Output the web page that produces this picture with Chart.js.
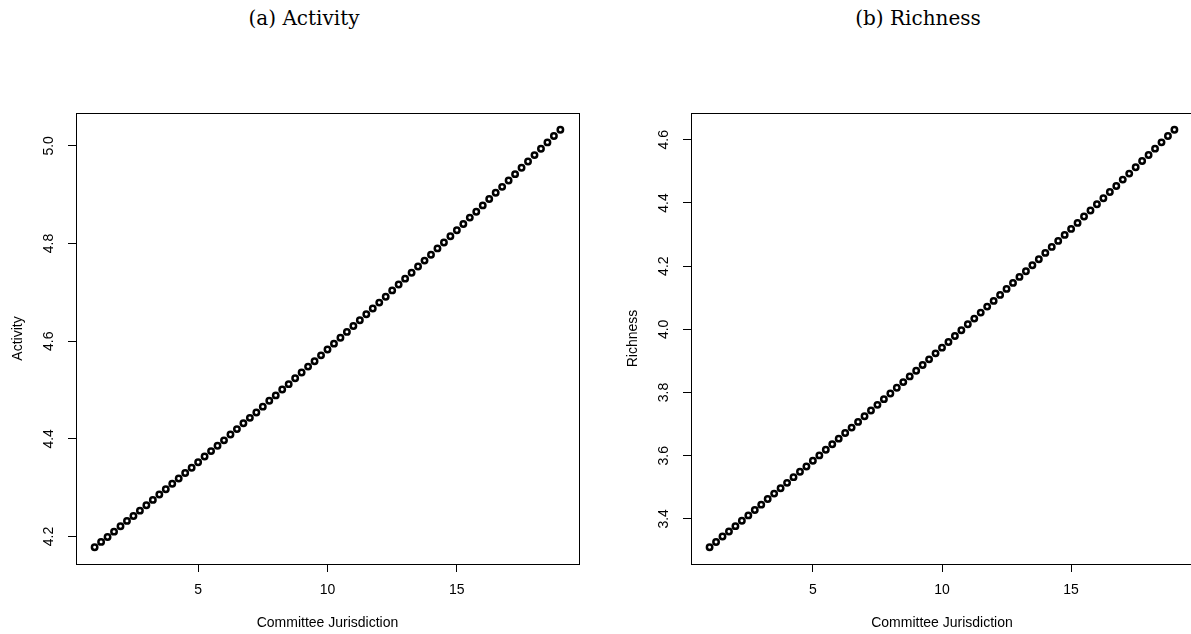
<!DOCTYPE html>
<html>
<head>
<meta charset="utf-8">
<script src="https://cdn.jsdelivr.net/npm/chart.js@4.4.1/dist/chart.umd.min.js"></script>
<style>
html,body{margin:0;padding:0;background:#fff;width:1191px;height:634px;overflow:hidden;position:relative}
.t{position:absolute;font-family:"DejaVu Serif",serif;font-size:20px;color:#000;white-space:nowrap;transform:translate(-50%,-50%)}
#c1{position:absolute;left:0;top:0}
#c2{position:absolute;left:600px;top:0}
</style>
</head>
<body>
<div class="t" style="left:304px;top:18px">(a) Activity</div>
<div class="t" style="left:918px;top:18px">(b) Richness</div>
<canvas id="c1" width="600" height="634"></canvas>
<canvas id="c2" width="620" height="634"></canvas>
<script>
const jurisdiction = [1,1.25,1.5,1.75,2,2.25,2.5,2.75,3,3.25,3.5,3.75,4,4.25,4.5,4.75,5,5.25,5.5,5.75,6,6.25,6.5,6.75,7,7.25,7.5,7.75,8,8.25,8.5,8.75,9,9.25,9.5,9.75,10,10.25,10.5,10.75,11,11.25,11.5,11.75,12,12.25,12.5,12.75,13,13.25,13.5,13.75,14,14.25,14.5,14.75,15,15.25,15.5,15.75,16,16.25,16.5,16.75,17,17.25,17.5,17.75,18,18.25,18.5,18.75,19];
const activity = [4.178,4.189,4.199,4.210,4.221,4.232,4.242,4.253,4.264,4.275,4.286,4.297,4.308,4.319,4.330,4.341,4.352,4.364,4.375,4.386,4.397,4.409,4.420,4.432,4.443,4.454,4.466,4.478,4.489,4.501,4.512,4.524,4.536,4.548,4.559,4.571,4.583,4.595,4.607,4.619,4.631,4.643,4.655,4.667,4.679,4.691,4.704,4.716,4.728,4.740,4.753,4.765,4.777,4.790,4.802,4.815,4.827,4.840,4.853,4.865,4.878,4.891,4.904,4.916,4.929,4.942,4.955,4.968,4.981,4.994,5.007,5.020,5.033];
const richness = [3.310,3.327,3.344,3.360,3.377,3.394,3.411,3.428,3.445,3.463,3.480,3.497,3.514,3.532,3.549,3.566,3.584,3.601,3.619,3.636,3.654,3.672,3.689,3.707,3.725,3.743,3.761,3.779,3.797,3.815,3.833,3.851,3.869,3.887,3.905,3.924,3.942,3.960,3.979,3.997,4.016,4.034,4.053,4.072,4.090,4.109,4.128,4.147,4.166,4.184,4.203,4.222,4.242,4.261,4.280,4.299,4.318,4.337,4.357,4.376,4.396,4.415,4.435,4.454,4.474,4.493,4.513,4.533,4.552,4.572,4.592,4.612,4.632];
const xTicks = [5, 10, 15];
const activityTicks = [4.2, 4.4, 4.6, 4.8, 5.0];
const richnessTicks = [3.4, 3.6, 3.8, 4.0, 4.2, 4.4, 4.6];
const xTitle = 'Committee Jurisdiction';

const AXIS_FONT = '"Liberation Sans", Arial, Helvetica, sans-serif';
const FS = 14;

function rRange(arr) {
  const mn = Math.min(...arr), mx = Math.max(...arr), d = (mx - mn) * 0.04;
  return [mn - d, mx + d];
}

const rStyle = {
  id: 'rStyle',
  afterDraw(chart, args, opts) {
    const {ctx, chartArea: a} = chart;
    ctx.save();
    ctx.strokeStyle = '#000';
    ctx.lineWidth = 1;
    ctx.strokeRect(Math.round(a.left) + 0.5, Math.round(a.top) + 0.5,
                   Math.round(a.right - a.left), Math.round(a.bottom - a.top));
    const ys = chart.scales.y;
    ctx.fillStyle = '#000';
    ctx.font = FS + 'px ' + AXIS_FONT;
    ctx.textAlign = 'center';
    ctx.textBaseline = 'middle';
    ys.ticks.forEach(t => {
      const py = ys.getPixelForValue(t.value);
      ctx.save();
      ctx.translate(opts.labelX, py);
      ctx.rotate(-Math.PI / 2);
      ctx.fillText(Number(t.value).toFixed(1), 0, 0);
      ctx.restore();
    });
    ctx.restore();
  }
};

function makeChart(id, ys, yTicks, yTitle, yWidth, labelX, yTitlePad, rightPad) {
  const xr = rRange(jurisdiction);
  const yr = rRange(ys);
  return new Chart(document.getElementById(id), {
    type: 'scatter',
    data: {
      datasets: [{
        data: jurisdiction.map((x, i) => ({x: x, y: ys[i]})),
        pointStyle: 'circle',
        pointRadius: 2.7,
        pointBorderWidth: 2.5,
        borderColor: '#000',
        backgroundColor: 'rgba(255,255,255,0)',
        pointHoverRadius: 2.7
      }]
    },
    options: {
      responsive: false,
      maintainAspectRatio: false,
      animation: false,
      devicePixelRatio: 1,
      layout: {padding: {left: 0, top: 113, right: rightPad, bottom: 0}},
      plugins: {legend: {display: false}, tooltip: {enabled: false}, rStyle: {labelX: labelX}},
      scales: {
        x: {
          type: 'linear',
          min: xr[0], max: xr[1],
          afterBuildTicks: s => { s.ticks = xTicks.map(v => ({value: v})); },
          afterFit: s => { s.height = 70; },
          grid: {display: true, drawOnChartArea: false, drawTicks: true, tickLength: 8, color: '#000', lineWidth: 1},
          border: {display: false},
          ticks: {color: '#000', font: {family: AXIS_FONT, size: FS}, padding: 10, maxRotation: 0, minRotation: 0,
                  callback: v => String(v)},
          title: {display: true, text: xTitle, color: '#000', font: {family: AXIS_FONT, size: FS}, padding: {top: 0, bottom: 2}}
        },
        y: {
          type: 'linear',
          min: yr[0], max: yr[1],
          afterBuildTicks: s => { s.ticks = yTicks.map(v => ({value: v})); },
          afterFit: s => { s.width = yWidth; },
          grid: {display: true, drawOnChartArea: false, drawTicks: true, tickLength: 8, color: '#000', lineWidth: 1},
          border: {display: false},
          ticks: {display: false},
          title: {display: true, text: yTitle, color: '#000', font: {family: AXIS_FONT, size: FS}, padding: {top: yTitlePad, bottom: 0}}
        }
      }
    },
    plugins: [rStyle]
  });
}

makeChart('c1', activity, activityTicks, 'Activity', 76, 49, 9.6, 21);
makeChart('c2', richness, richnessTicks, 'Richness', 91, 64, 24.6, 27);
</script>
</body>
</html>
